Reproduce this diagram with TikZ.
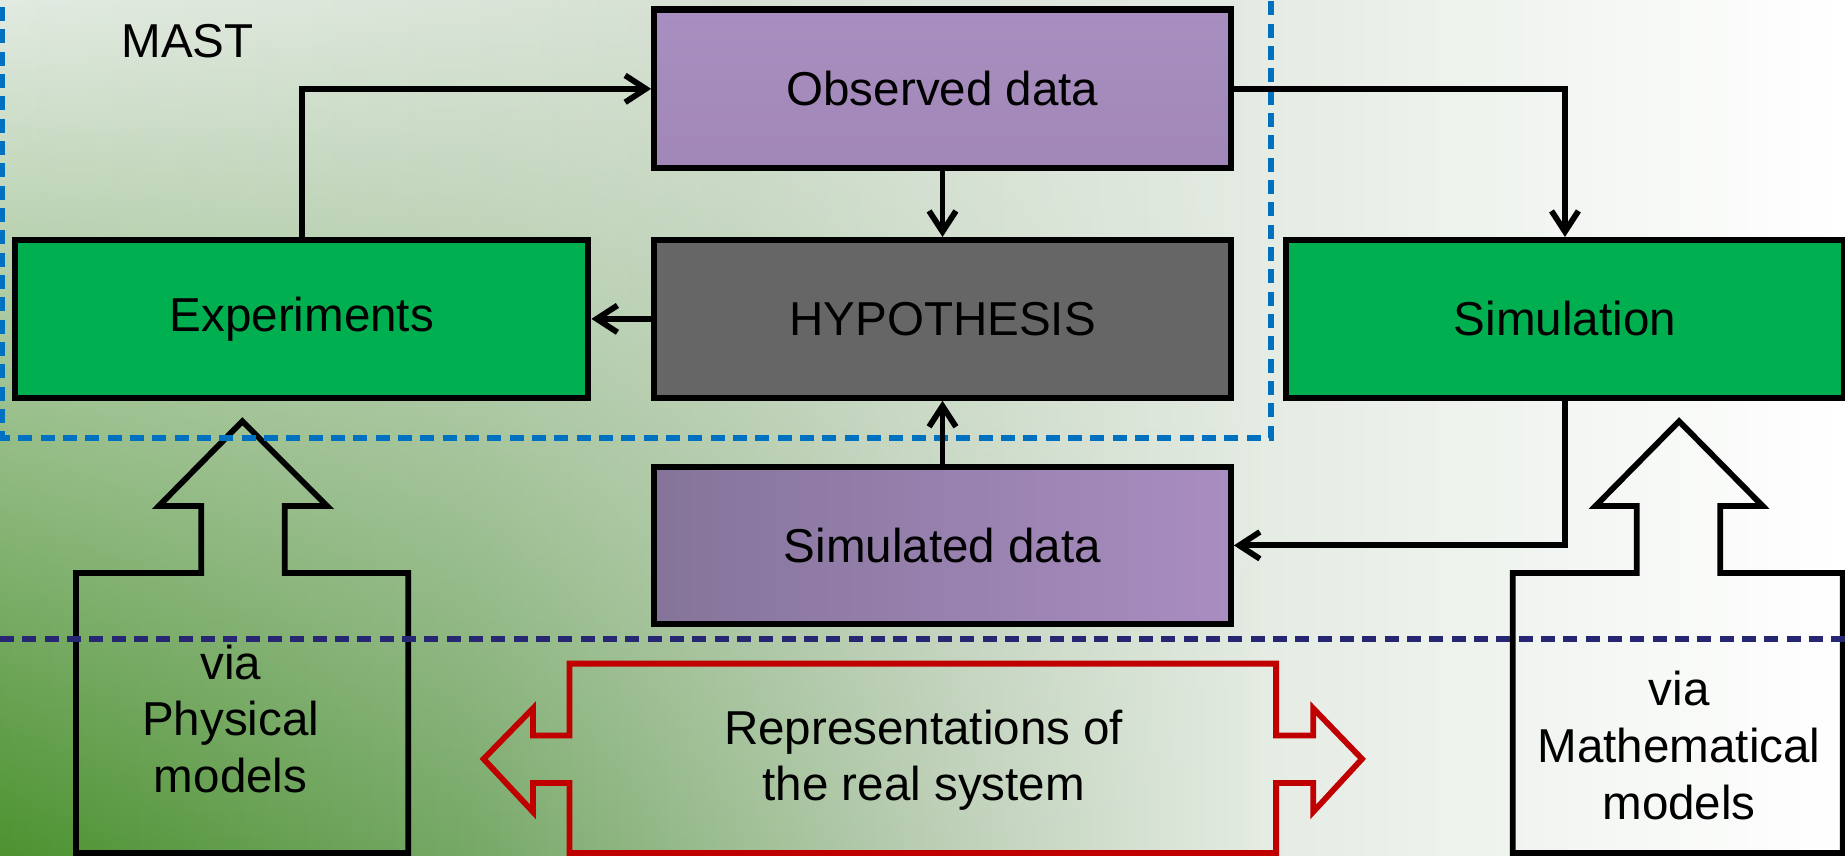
\documentclass[tikz,border=0pt]{standalone}
\usepackage{fontspec}
\setmainfont{Liberation Sans}
\usepackage{xcolor}
\usetikzlibrary{arrows.meta, fadings}

\definecolor{boxgreen}{HTML}{00B050}
\definecolor{hypogray}{HTML}{666666}
\definecolor{purpletop}{HTML}{A98EC1}
\definecolor{purplebot}{HTML}{A187B7}
\definecolor{purpledark}{HTML}{85749A}
\definecolor{purplelight}{HTML}{A98DC1}
\definecolor{mastblue}{HTML}{0070C0}
\definecolor{linenavy}{HTML}{262673}
\definecolor{reprred}{HTML}{C00000}
\definecolor{bgA}{HTML}{4C9230}
\definecolor{bgB}{HTML}{76A866}
\definecolor{bgC}{HTML}{BCCFB6}
\definecolor{bgD}{HTML}{E6EDE5}
\definecolor{bgtopA}{HTML}{E3EBE2}
\definecolor{bgtopB}{HTML}{D6E1D3}
\definecolor{bgtopC}{HTML}{E5ECE4}

\pgfdeclarehorizontalshading{bgbottom}{100bp}{color(0bp)=(bgA); color(25bp)=(bgA); color(37.7bp)=(bgB); color(50.5bp)=(bgC); color(59.6bp)=(bgD); color(75bp)=(white); color(100bp)=(white)}
\pgfdeclarehorizontalshading{bgupper}{100bp}{color(0bp)=(bgtopA); color(25bp)=(bgtopA); color(45bp)=(bgtopB); color(59.4bp)=(bgtopC); color(75bp)=(white); color(100bp)=(white)}
\tikzfading[name=fadedown, top color=transparent!0, bottom color=transparent!100]

\begin{document}
\begin{tikzpicture}[>={Straight Barb[length=5pt, width=6.5pt]},
    box/.style={draw=black, line width=1.5pt, minimum height=1.34cm, inner sep=0pt, font=\fontsize{11.5}{13.7}\selectfont},
    label text/.style={align=center, font=\fontsize{11.5}{13.7}\selectfont},
    link/.style={->, line width=1.4pt}]
    %\draw[step=1cm, gray, very thin] (0, 0) grid (15.68, 7.27);
    \useasboundingbox (0, 0) rectangle (15.68, 7.27);

    % background
    \shade[shading=bgbottom] (0, 0) rectangle (15.68, 7.27);
    \shade[shading=bgupper, path fading=fadedown] (0, 0) rectangle (15.68, 7.27);

    % block arrows
    \draw[line width=1.4pt] (0.645, 0.02) -- (0.645, 2.40) -- (1.71, 2.40) -- (1.71, 2.97) -- (1.35, 2.97) -- (2.06, 3.69)
      -- (2.78, 2.97) -- (2.42, 2.97) -- (2.42, 2.40) -- (3.47, 2.40) -- (3.47, 0.02) -- cycle;
    \draw[line width=1.4pt] (12.856, 0.02) -- (12.856, 2.40) -- (13.91, 2.40) -- (13.91, 2.97) -- (13.56, 2.97) -- (14.27, 3.69)
      -- (14.98, 2.97) -- (14.62, 2.97) -- (14.62, 2.40) -- (15.66, 2.40) -- (15.66, 0.02) -- cycle;
    \draw[reprred, line width=1.4pt] (4.84, 0.02) -- (4.84, 0.615) -- (4.53, 0.615) -- (4.53, 0.37) -- (4.11, 0.82)
      -- (4.53, 1.25) -- (4.53, 1.02) -- (4.84, 1.02) -- (4.84, 1.63) -- (10.845, 1.63) -- (10.845, 1.02)
      -- (11.16, 1.02) -- (11.16, 1.25) -- (11.575, 0.82) -- (11.16, 0.37) -- (11.16, 0.615) -- (10.845, 0.615)
      -- (10.845, 0.02) -- cycle;

    \node[label text] (physical) at (1.96, 1.16) {via\\Physical\\models};
    \node[label text] (mathematical) at (14.27, 0.935) {via\\Mathematical\\models};
    \node[label text] (reprs) at (7.85, 0.81) {Representations of\\the real system};

    % MAST frame and divider
    \draw[mastblue, line width=1.4pt, dash pattern=on 3.4pt off 2pt] (0.02, 7.40) -- (0.02, 3.55) -- (10.80, 3.55) -- (10.80, 7.40);
    \draw[linenavy, line width=1.4pt, dash pattern=on 3.4pt off 2pt] (0, 1.84) -- (15.68, 1.84);
    \node[label text] (mast) at (1.595, 6.92) {MAST};

    % boxes
    \node[box, fill=boxgreen, minimum width=4.87cm] (exper) at (2.565, 4.56) {Experiments};
    \node[box, fill=hypogray, minimum width=4.90cm] (hypo) at (8.01, 4.56) {HYPOTHESIS};
    \node[box, top color=purpletop, bottom color=purplebot, minimum width=4.90cm, minimum height=1.35cm] (obsdata) at (8.01, 6.515) {Observed data};
    \node[box, left color=purpledark, right color=purplelight, minimum width=4.90cm, minimum height=1.33cm] (simdata) at (8.01, 2.635) {Simulated data};
    \node[box, fill=boxgreen, minimum width=4.74cm] (simul) at (13.30, 4.56) {Simulation};

    \draw[link] (exper.north) |- (obsdata.west);
    \draw[link] (obsdata.south) -- (hypo.north);
    \draw[link] (hypo.west) -- (exper.east);
    \draw[link] (obsdata.east) -| (simul.north);
    \draw[link] (simul.south) |- (simdata.east);
    \draw[link] (simdata.north) -- (hypo.south);

\end{tikzpicture}
\end{document}
